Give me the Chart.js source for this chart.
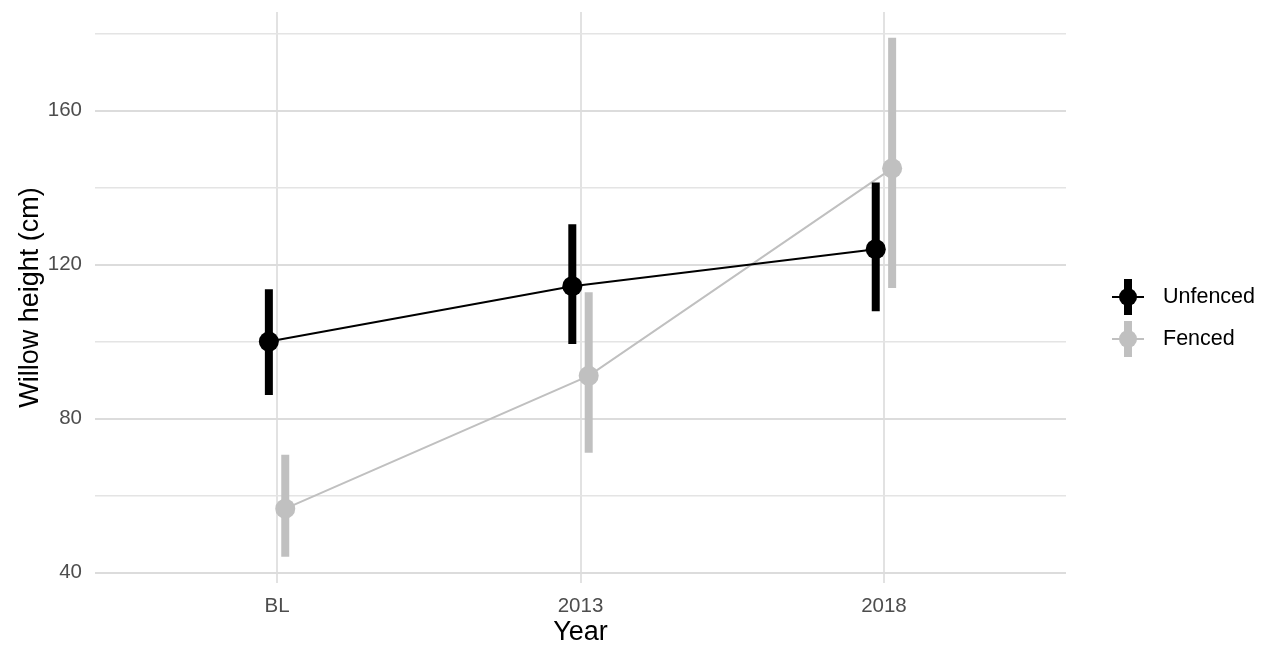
<!DOCTYPE html>
<html>
<head>
<meta charset="utf-8">
<script src="https://cdn.jsdelivr.net/npm/chart.js@4.4.1/dist/chart.umd.min.js"></script>
<style>
html,body{margin:0;padding:0;background:#fff;}
#wrap{width:1265px;height:647px;}
</style>
</head>
<body>
<div id="wrap"><canvas id="c" width="1265" height="647"></canvas></div>
<script>
// ---- data ----
const categories = ['BL', '2013', '2018'];
const seriesNames = ['Unfenced', 'Fenced'];
const unfencedMean = [100.0, 114.4, 124.0];
const unfencedLow  = [86.1, 99.4, 107.9];
const unfencedHigh = [113.6, 130.5, 141.3];
const fencedMean   = [56.6, 91.1, 145.0];
const fencedLow    = [44.1, 71.1, 113.9];
const fencedHigh   = [70.6, 112.8, 178.9];
const yTicks = [40, 60, 80, 100, 120, 140, 160, 180];
const yLabelTicks = [40, 80, 120, 160];

// ---- style ----
const BLACK = '#000000';
const GREY = '#c0c0c0';
const dodge = 0.027;
const FONT = "'Liberation Sans', Arial, sans-serif";

function pts(vals, off) { return vals.map((v, i) => ({x: i + off, y: v})); }
function errDatasets(low, high, off, color, w) {
  return low.map((lo, i) => ({
    type: 'line', data: [{x: i + off, y: lo}, {x: i + off, y: high[i]}],
    borderColor: color, borderWidth: w, borderCapStyle: 'butt',
    pointRadius: 0, fill: false
  }));
}

const datasets = [
  ...errDatasets(unfencedLow, unfencedHigh, -dodge, BLACK, 8),
  ...errDatasets(fencedLow, fencedHigh, dodge, GREY, 8),
  { label: seriesNames[0], data: pts(unfencedMean, -dodge), borderColor: BLACK, backgroundColor: BLACK,
    borderWidth: 2, pointRadius: 10, pointBorderWidth: 0, pointHoverRadius: 10 },
  { label: seriesNames[1], data: pts(fencedMean, dodge), borderColor: GREY, backgroundColor: GREY,
    borderWidth: 2, pointRadius: 10, pointBorderWidth: 0, pointHoverRadius: 10 }
];

const legendPlugin = {
  id: 'ggLegend',
  afterDraw(chart) {
    const ctx = chart.ctx;
    const items = [{name: seriesNames[0], color: BLACK, y: 297}, {name: seriesNames[1], color: GREY, y: 339}];
    const cx = 1128;
    items.forEach(it => {
      ctx.save();
      ctx.strokeStyle = it.color; ctx.fillStyle = it.color;
      ctx.lineWidth = 2;
      ctx.beginPath(); ctx.moveTo(cx - 16, it.y); ctx.lineTo(cx + 16, it.y); ctx.stroke();
      ctx.fillRect(cx - 4, it.y - 18, 8, 36);
      ctx.beginPath(); ctx.arc(cx, it.y, 9, 0, Math.PI * 2); ctx.fill();
      ctx.fillStyle = '#000';
      ctx.font = '21.5px ' + FONT;
      ctx.textBaseline = 'middle';
      ctx.textAlign = 'left';
      ctx.fillText(it.name, 1163, it.y);
      ctx.restore();
    });
  }
};

new Chart(document.getElementById('c'), {
  type: 'line',
  data: { datasets },
  options: {
    responsive: false,
    animation: false,
    layout: { padding: { top: 12, right: 199, left: 0, bottom: 0 } },
    plugins: { legend: { display: false }, tooltip: { enabled: false } },
    scales: {
      x: {
        type: 'linear', min: -0.6, max: 2.6,
        afterBuildTicks(s) { s.ticks = categories.map((c, i) => ({value: i})); },
        afterFit(s) { s.height = 64; s.paddingLeft = 0; s.paddingRight = 0; },
        ticks: { callback: (v) => categories[v] !== undefined ? categories[v] : '', color: '#4d4d4d',
                 font: { family: FONT, size: 20.5 }, padding: 11, maxRotation: 0, autoSkip: false },
        grid: { color: '#e2e2e2', lineWidth: 2, drawTicks: false },
        border: { display: false },
        title: { display: true, text: 'Year', color: '#000', font: { family: FONT, size: 27 }, padding: { top: 0, bottom: -2 } }
      },
      y: {
        type: 'linear', min: 37.3, max: 185.6,
        afterBuildTicks(s) { s.ticks = yTicks.map(v => ({value: v})); },
        afterFit(s) { s.width = 95; s.paddingTop = 0; s.paddingBottom = 0; },
        ticks: { callback: (v) => yLabelTicks.includes(v) ? String(v) : '', color: '#4d4d4d',
                 font: { family: FONT, size: 20.5 }, padding: 13, autoSkip: false },
        grid: { color: (c) => yLabelTicks.includes(c.tick && c.tick.value) ? '#dcdcdc' : '#e4e4e4',
                lineWidth: (c) => yLabelTicks.includes(c.tick && c.tick.value) ? 2 : 1.6, drawTicks: false },
        border: { display: false },
        title: { display: true, text: 'Willow height (cm)', color: '#000', font: { family: FONT, size: 27 }, padding: { top: 14, bottom: 0 } }
      }
    }
  },
  plugins: [legendPlugin]
});
</script>
</body>
</html>
